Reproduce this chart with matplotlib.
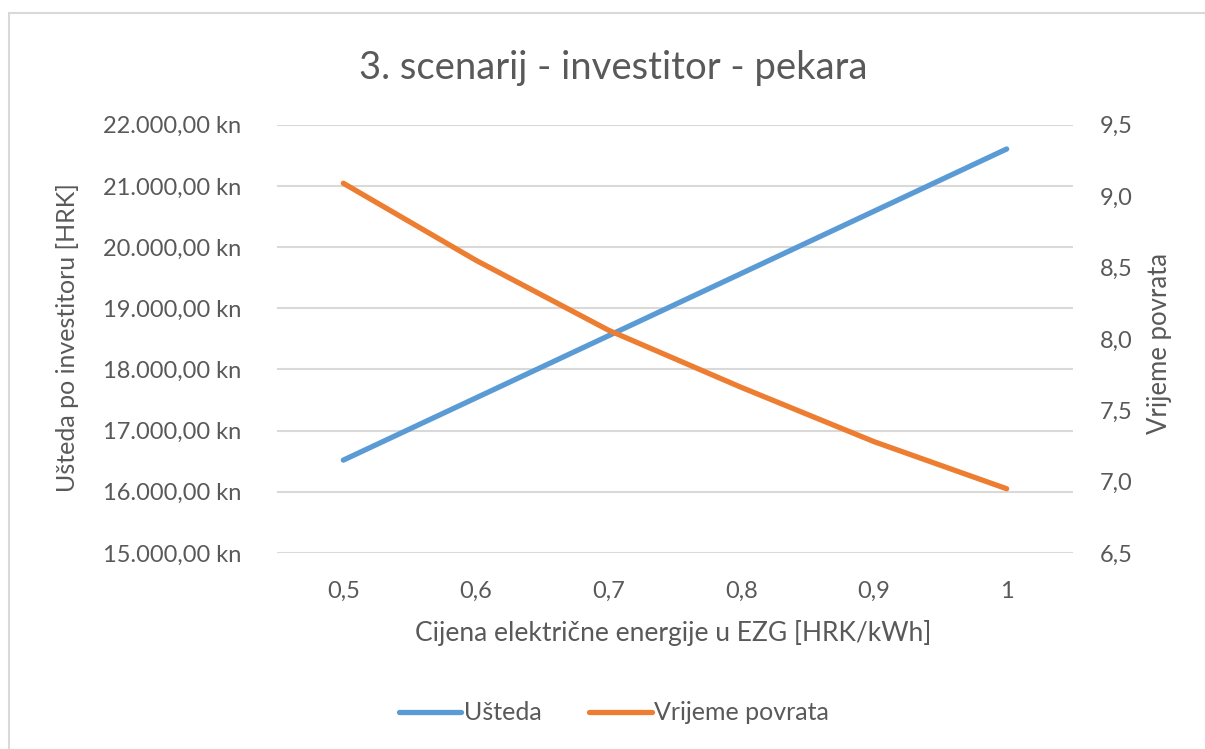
import matplotlib
matplotlib.use("Agg")
import matplotlib.pyplot as plt
from matplotlib.patches import Rectangle
from matplotlib.lines import Line2D

categories = ["0,5", "0,6", "0,7", "0,8", "0,9", "1"]
usteda = [16518, 17535, 18552, 19569, 20586, 21603]
vrijeme = [9.09, 8.55, 8.06, 7.66, 7.28, 6.95]
left_ticks = [15000, 16000, 17000, 18000, 19000, 20000, 21000, 22000]
right_ticks = [6.5, 7.0, 7.5, 8.0, 8.5, 9.0, 9.5]

title = "3. scenarij - investitor - pekara"
xlabel = "Cijena električne energije u EZG [HRK/kWh]"
ylabel_left = "Ušteda po investitoru [HRK]"
ylabel_right = "Vrijeme povrata"

BLUE = "#5B9BD5"
ORANGE = "#ED7D31"
TXT = "#595959"
GRID = "#D9D9D9"

plt.rcParams["font.family"] = ["Lato", "DejaVu Sans"]

W, H = 1205, 749
fig = plt.figure(figsize=(W / 100, H / 100), dpi=100)

# chart frame
fig.patches.append(Rectangle((9 / W, -0.1), 1.2, 1 - 13 / H + 0.1, transform=fig.transFigure,
                             fill=False, edgecolor="#D9D9D9", linewidth=1.5))

left, right, top, bottom = 277 / W, 1073 / W, 1 - 124.7 / H, 1 - 553 / H
ax = fig.add_axes([left, bottom, right - left, top - bottom])
ax2 = ax.twinx()

x = list(range(len(categories)))
ax.plot(x, usteda, color=BLUE, lw=3.8, solid_capstyle="round", zorder=3)
ax2.plot(x, vrijeme, color=ORANGE, lw=3.8, solid_capstyle="round", zorder=3)

ax.set_xlim(-0.5, len(categories) - 0.5)
ax.set_ylim(15000, 22000)
ax2.set_ylim(6.5, 9.5)
ax.set_yticks(left_ticks)
ax.set_yticklabels([f"{v:,.2f}".replace(",", "X").replace(".", ",").replace("X", ".") + " kn" for v in left_ticks])
ax2.set_yticks(right_ticks)
ax2.set_yticklabels([f"{v:.1f}".replace(".", ",") for v in right_ticks])
ax.set_xticks(x)
ax.set_xticklabels(categories)

for a in (ax, ax2):
    for s in a.spines.values():
        s.set_visible(False)
    a.tick_params(length=0, colors=TXT, labelsize=17)
ax.tick_params(axis="y", pad=26)
ax2.tick_params(axis="y", pad=19.5)
ax.tick_params(axis="x", pad=20)
ax.grid(axis="y", color=GRID, lw=1.5)
ax.set_axisbelow(True)

fig.text(673 / W, 1 - 633 / H, xlabel, ha="center", va="center", color=TXT, fontsize=19)
fig.text(68 / W, 1 - 338 / H, ylabel_left, ha="center", va="center", color=TXT, fontsize=18, rotation=90)
fig.text(1160 / W, 1 - 344 / H, ylabel_right, ha="center", va="center", color=TXT, fontsize=18.5, rotation=90)

fig.text(613 / W, 1 - 68 / H, title, ha="center", va="center", color=TXT, fontsize=27.5)

handles = [Line2D([], [], color=BLUE, lw=3.8, solid_capstyle="round"),
           Line2D([], [], color=ORANGE, lw=3.8, solid_capstyle="round")]
leg = fig.legend(handles, ["Ušteda", "Vrijeme povrata"], loc="center", bbox_to_anchor=(614 / W, 1 - 713 / H),
                 ncol=2, frameon=False, fontsize=18, handlelength=2.5, handletextpad=0.1, columnspacing=1.9)
for t in leg.get_texts():
    t.set_color(TXT)

fig.savefig("out.png", dpi=100)
